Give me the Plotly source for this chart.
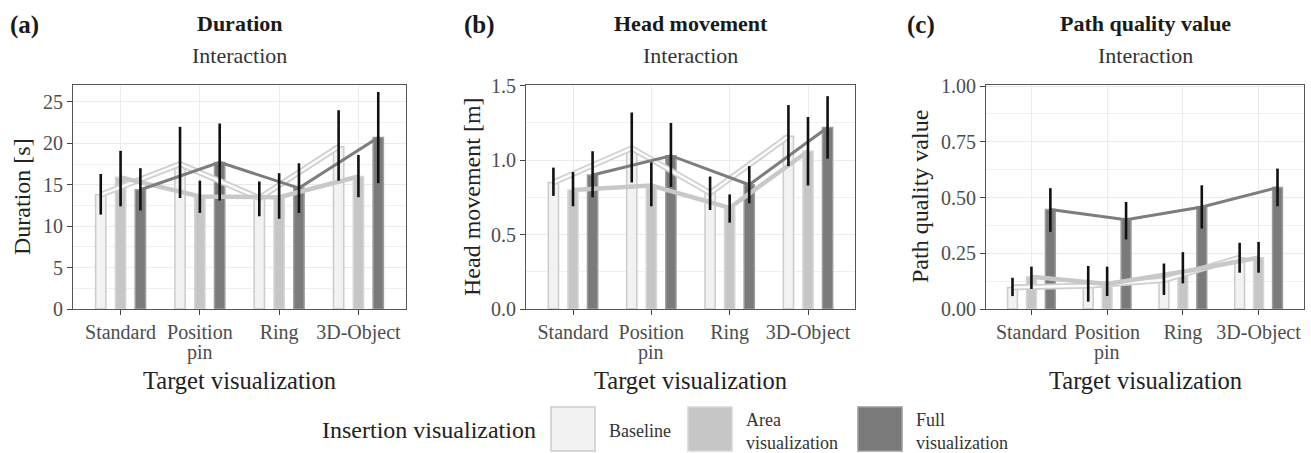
import plotly.graph_objects as go

# ---------------- data ----------------
categories = ["Standard", "Position<br>pin", "Ring", "3D-Object"]
groups = ["Baseline", "Area<br>visualization", "Full<br>visualization"]

# Duration [s]  (rows: Baseline, Area, Full)
duration_mean = [[13.8, 17.5, 13.4, 19.6],
                 [15.9, 13.6, 13.5, 16.0],
                 [14.4, 17.7, 14.6, 20.7]]
duration_lo = [[11.4, 13.4, 11.2, 15.5],
               [12.4, 11.6, 10.9, 13.5],
               [11.9, 13.1, 11.6, 15.2]]
duration_hi = [[16.3, 22.0, 15.4, 24.0],
               [19.1, 15.5, 16.4, 18.6],
               [17.0, 22.4, 17.6, 26.2]]

# Head movement [m]
head_mean = [[0.85, 1.08, 0.78, 1.16],
             [0.80, 0.83, 0.68, 1.06],
             [0.90, 1.03, 0.835, 1.22]]
head_lo = [[0.76, 0.85, 0.665, 0.96],
           [0.69, 0.69, 0.58, 0.83],
           [0.75, 0.82, 0.71, 1.01]]
head_hi = [[0.95, 1.32, 0.89, 1.37],
           [0.92, 0.985, 0.77, 1.29],
           [1.06, 1.25, 0.96, 1.43]]

# Path quality value
path_mean = [[0.097, 0.104, 0.13, 0.23],
             [0.145, 0.112, 0.167, 0.23],
             [0.446, 0.40, 0.458, 0.545]]
path_lo = [[0.058, 0.033, 0.063, 0.163],
           [0.09, 0.058, 0.115, 0.163],
           [0.346, 0.312, 0.361, 0.461]]
path_hi = [[0.14, 0.193, 0.204, 0.297],
           [0.19, 0.19, 0.255, 0.301],
           [0.542, 0.48, 0.555, 0.63]]

panel_letters = ["(a)", "(b)", "(c)"]
panel_titles = ["Duration", "Head movement", "Path quality value"]
y_titles = ["Duration [s]", "Head movement [m]", "Path quality value"]
y_ticks = [[0, 5, 10, 15, 20, 25], [0.0, 0.5, 1.0, 1.5], [0.0, 0.25, 0.5, 0.75, 1.0]]

# ---------------- styling ----------------
W, H = 1311, 453
FONT = "Liberation Serif"
bar_fill = ["#f2f2f2", "#c6c6c6", "#7a7a7a"]
bar_edge = ["#cccccc", "#d6d6d6", "#9c9c9c"]
offsets = [-0.25, 0.0, 0.25]

panels = [
    dict(data=(duration_mean, duration_lo, duration_hi), x0=73, x1=406, yr=[0, 27.05], fmt="d",
         minor=2.5, ytitle_dx=51, letter_dx=65),
    dict(data=(head_mean, head_lo, head_hi), x0=526, x1=855, yr=[0, 1.505], fmt=".1f",
         minor=0.25, ytitle_dx=54, letter_dx=64),
    dict(data=(path_mean, path_lo, path_hi), x0=986, x1=1304, yr=[0, 1.005], fmt=".2f",
         minor=0.125, ytitle_dx=66, letter_dx=81),
]
PT, PB = 85, 309


def px(x):
    return x / W


def py(y):
    return 1 - y / H


fig = go.Figure()
layout = dict(
    template="none",
    width=W, height=H, margin=dict(l=0, r=0, t=0, b=0, pad=0),
    paper_bgcolor="white", plot_bgcolor="white",
    barmode="overlay", showlegend=False,
    font=dict(family=FONT, color="#4d4d4d", size=20),
)
annotations = []
shapes = []
first_lines = [c.split("<br>")[0] for c in categories]

for p, panel in enumerate(panels):
    suf = "" if p == 0 else str(p + 1)
    xa, ya = "x" + suf, "y" + suf
    mean, lo, hi = panel["data"]
    xs = [[i + 1 + offsets[g] for i in range(len(categories))] for g in range(3)]

    # bars
    for g in range(3):
        fig.add_trace(go.Bar(
            x=xs[g], y=mean[g], width=0.13, xaxis=xa, yaxis=ya,
            marker=dict(color=bar_fill[g], line=dict(color=bar_edge[g], width=1.5)),
            hoverinfo="skip"))
    # lines
    fig.add_trace(go.Scatter(x=xs[0], y=mean[0], mode="lines", xaxis=xa, yaxis=ya,
                             line=dict(color="#cfcfcf", width=6), hoverinfo="skip"))
    fig.add_trace(go.Scatter(x=xs[0], y=mean[0], mode="lines", xaxis=xa, yaxis=ya,
                             line=dict(color="#fbfbfb", width=2.5), hoverinfo="skip"))
    fig.add_trace(go.Scatter(x=xs[1], y=mean[1], mode="lines", xaxis=xa, yaxis=ya,
                             line=dict(color="#c8c8c8", width=4.5), hoverinfo="skip"))
    fig.add_trace(go.Scatter(x=xs[2], y=mean[2], mode="lines", xaxis=xa, yaxis=ya,
                             line=dict(color="#7d7d7d", width=3), hoverinfo="skip"))
    # error bars
    for g in range(3):
        fig.add_trace(go.Scatter(
            x=xs[g], y=mean[g], mode="markers", xaxis=xa, yaxis=ya,
            marker=dict(size=1, color="rgba(0,0,0,0)"),
            error_y=dict(type="data", symmetric=False,
                         array=[h - m for h, m in zip(hi[g], mean[g])],
                         arrayminus=[m - l for m, l in zip(mean[g], lo[g])],
                         color="#111111", thickness=2.6, width=0),
            hoverinfo="skip"))

    layout["xaxis" + suf] = dict(
        domain=[px(panel["x0"]), px(panel["x1"])], anchor=ya, range=[0.4, 4.6],
        tickmode="array", tickvals=[1, 2, 3, 4], ticktext=first_lines, automargin=False,
        showgrid=True, gridcolor="#ebebeb", gridwidth=1.2, zeroline=False,
        showline=True, mirror=True, linecolor="#555555", linewidth=1.2,
        ticks="outside", ticklen=5, tickcolor="#444444", tickwidth=1.2,
        tickfont=dict(family=FONT, size=20, color="#4d4d4d"), fixedrange=True)
    layout["yaxis" + suf] = dict(
        domain=[py(PB), py(PT)], anchor=xa, range=panel["yr"], automargin=False,
        tickmode="array", tickvals=y_ticks[p], tickformat=panel["fmt"],
        showgrid=True, gridcolor="#ebebeb", gridwidth=1.2, zeroline=False,
        minor=dict(dtick=panel["minor"], tick0=0, showgrid=True, gridcolor="#f0f0f0", gridwidth=0.8, ticks=""),
        showline=True, mirror=True, linecolor="#555555", linewidth=1.2,
        ticks="outside", ticklen=5, tickcolor="#444444", tickwidth=1.2,
        tickfont=dict(family=FONT, size=20, color="#4d4d4d"), fixedrange=True)

    # second lines of wrapped category labels (tighter line spacing than plotly's default)
    for i, c in enumerate(categories):
        for k, extra in enumerate(c.split("<br>")[1:]):
            annotations.append(dict(text=extra, x=i + 1, y=py(352 + 21 * k), xref=xa, yref="paper",
                                    xanchor="center", yanchor="middle", showarrow=False,
                                    font=dict(family=FONT, size=20, color="#4d4d4d")))

    cx = (panel["x0"] + panel["x1"]) / 2
    common = dict(xref="paper", yref="paper", showarrow=False)
    annotations += [
        dict(text="<b>" + panel_letters[p] + "</b>", x=px(panel["x0"] - panel["letter_dx"]), y=py(25),
             xanchor="left", yanchor="middle",
             font=dict(family=FONT, size=25, color="#1a1a1a"), **common),
        dict(text="<b>" + panel_titles[p] + "</b>", x=px(cx), y=py(23),
             xanchor="center", yanchor="middle",
             font=dict(family=FONT, size=22, color="#1a1a1a"), **common),
        dict(text="Interaction", x=px(cx), y=py(56),
             xanchor="center", yanchor="middle",
             font=dict(family=FONT, size=22, color="#333333"), **common),
        dict(text="Target visualization", x=px(cx), y=py(380),
             xanchor="center", yanchor="middle",
             font=dict(family=FONT, size=24.5, color="#222222"), **common),
        dict(text=y_titles[p], x=px(panel["x0"] - panel["ytitle_dx"]), y=py((PT + PB) / 2), textangle=-90,
             xanchor="center", yanchor="middle",
             font=dict(family=FONT, size=24, color="#222222"), **common),
    ]

# legend (manual)
annotations.append(dict(text="Insertion visualization", x=px(429), y=py(430),
                        xref="paper", yref="paper", xanchor="center", yanchor="middle", showarrow=False,
                        font=dict(family=FONT, size=24, color="#222222")))
box_x = [551, 688, 858]
for g in range(3):
    shapes.append(dict(type="rect", xref="paper", yref="paper",
                       x0=px(box_x[g]), x1=px(box_x[g] + 44), y0=py(451), y1=py(407),
                       fillcolor=bar_fill[g], line=dict(color=bar_edge[g], width=1.5)))
    annotations.append(dict(text=groups[g], x=px(box_x[g] + 56), y=py(431),
                            xref="paper", yref="paper",
                            xanchor="left", yanchor="middle", align="left", showarrow=False,
                            font=dict(family=FONT, size=18, color="#333333")))

layout["annotations"] = annotations
layout["shapes"] = shapes
fig.update_layout(**layout)
fig.write_html("out.html", config={"displayModeBar": False},
               post_script="document.body.style.margin='0';document.body.style.overflow='hidden';")
